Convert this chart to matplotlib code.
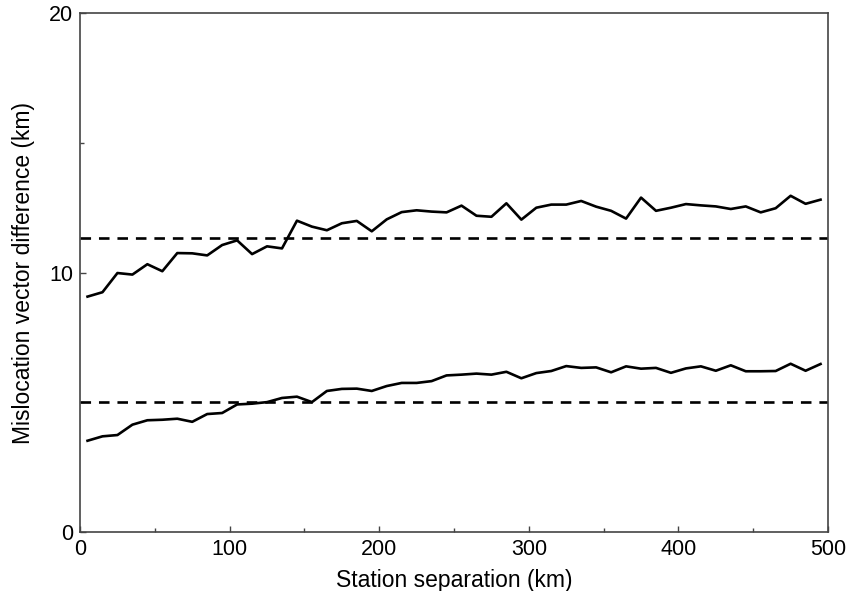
import numpy as np
from matplotlib import pyplot as plt
from matplotlib.ticker import MultipleLocator

plt.rcParams['font.family'] = ['Liberation Sans', 'DejaVu Sans']

# separation bins (km)
separation = np.arange(5, 500, 10)

upper = [9.07, 9.24, 9.98, 9.92, 10.32, 10.05, 10.75, 10.74, 10.66, 11.06,
         11.24, 10.71, 11.01, 10.93, 12.00, 11.77, 11.63, 11.90, 11.99, 11.59,
         12.05, 12.33, 12.40, 12.35, 12.32, 12.58, 12.19, 12.15, 12.67, 12.04,
         12.50, 12.62, 12.62, 12.76, 12.54, 12.38, 12.08, 12.89, 12.38, 12.50,
         12.64, 12.59, 12.55, 12.45, 12.55, 12.32, 12.48, 12.96, 12.65, 12.81]

lower = [3.51, 3.68, 3.73, 4.13, 4.30, 4.32, 4.36, 4.24, 4.54, 4.58,
         4.91, 4.94, 5.00, 5.16, 5.21, 5.00, 5.43, 5.51, 5.52, 5.43,
         5.62, 5.74, 5.74, 5.81, 6.03, 6.06, 6.10, 6.06, 6.17, 5.92,
         6.12, 6.20, 6.39, 6.32, 6.34, 6.15, 6.38, 6.29, 6.32, 6.13,
         6.30, 6.38, 6.21, 6.42, 6.19, 6.19, 6.20, 6.48, 6.21, 6.47]

ref_levels = [11.34, 5.0]

fig = plt.figure(figsize=(8.47, 5.91), dpi=100)
ax = fig.add_axes([0.0945, 0.1003, 0.8831, 0.8772])

ax.plot(separation, upper, color='black', lw=1.9)
ax.plot(separation, lower, color='black', lw=1.9)
for lev in ref_levels:
    ax.axhline(lev, color='black', lw=1.9, dashes=(4, 3))

ax.set_xlim(0, 500)
ax.set_ylim(0, 20)
ax.xaxis.set_major_locator(MultipleLocator(100))
ax.xaxis.set_minor_locator(MultipleLocator(50))
ax.yaxis.set_major_locator(MultipleLocator(10))
ax.yaxis.set_minor_locator(MultipleLocator(5))
ax.tick_params(which='both', direction='in', length=4, width=1, color='#444444',
               labelsize=15.5, pad=5)
ax.tick_params(which='minor', length=3)
for s in ax.spines.values():
    s.set_color('#444444')
    s.set_linewidth(1.2)

ax.set_xlabel('Station separation (km)', fontsize=16.5, labelpad=7)
ax.set_ylabel('Mislocation vector difference (km)', fontsize=16.5, labelpad=10)

fig.savefig('out.png', dpi=100)
